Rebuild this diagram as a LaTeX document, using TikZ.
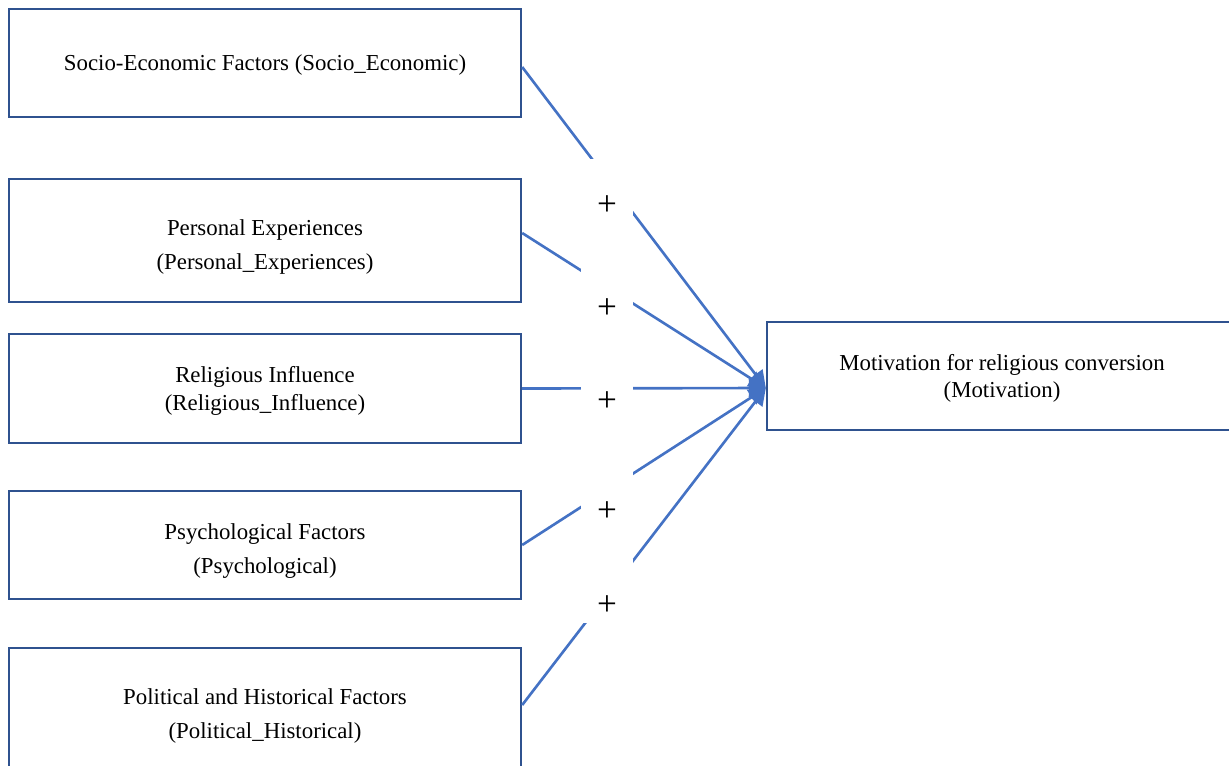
\documentclass[tikz,border=0pt]{standalone}
\usepackage{fontspec}
\setmainfont{Liberation Serif}
\usetikzlibrary{arrows.meta}

\definecolor{boxblue}{HTML}{2F528F}
\definecolor{lineblue}{HTML}{4472C4}
\newcommand{\topstrut}{\rule{0pt}{16pt}}

\begin{document}
\begin{tikzpicture}[
    x=0.02cm, y=-0.02cm,
    % Styles
    factor/.style={
        draw=boxblue, line width=1.4pt, fill=white,
        minimum width=10.24cm, minimum height=#1,
        font=\fontsize{13}{19.4}\selectfont, align=center,
    },
    factor/.default={2.16cm},
    tight/.style={font=\fontsize{13}{15.6}\selectfont},
    lowered/.style={text depth=#1},
    lowered/.default={0pt},
    link/.style={-{Triangle[length=0.34cm,width=0.34cm]}, line width=1.5pt, draw=lineblue},
    sign/.style={
        fill=white, inner sep=0pt,
        minimum width=1.04cm, minimum height=1.28cm,
        text height=0.96cm, text depth=0pt,
        font=\fontsize{20}{22}\selectfont,
    },
]
\useasboundingbox (0,0) rectangle (1229,765);
\clip (0,0) rectangle (1229,765);

% ================================================================
% FACTORS (left column)
% ================================================================
\node[factor, lowered=-1pt] (socio) at (265, 63) {Socio-Economic Factors (Socio\_Economic)};
\node[factor=2.46cm] (personal) at (265, 240.5) {\topstrut Personal Experiences\\(Personal\_Experiences)};
\node[factor=2.18cm, tight, lowered] (religious) at (265, 388.5) {Religious Influence\\(Religious\_Influence)};
\node[factor] (psych) at (265, 545) {\topstrut Psychological Factors\\(Psychological)};
\node[factor=2.64cm, lowered] (political) at (265, 714) {Political and Historical Factors\\(Political\_Historical)};

% ================================================================
% OUTCOME
% ================================================================
\node[factor, tight, lowered, minimum width=9.4cm] (motiv) at (1002, 376)
    {Motivation for religious conversion\\(Motivation)};
\coordinate (hub) at ([yshift=-0.24cm]motiv.west);

% ================================================================
% ARROWS
% ================================================================
\foreach \src/\dy in {socio/-0.08, personal/0.15, religious/0, psych/0, political/0.18}
    \draw[link] ([yshift=\dy cm]\src.east) -- (hub);

% signs
\foreach \y [count=\i] in {191, 294, 387, 497, 591}
    \node[sign] (plus\i) at (607, \y) {+};

\end{tikzpicture}
\end{document}
